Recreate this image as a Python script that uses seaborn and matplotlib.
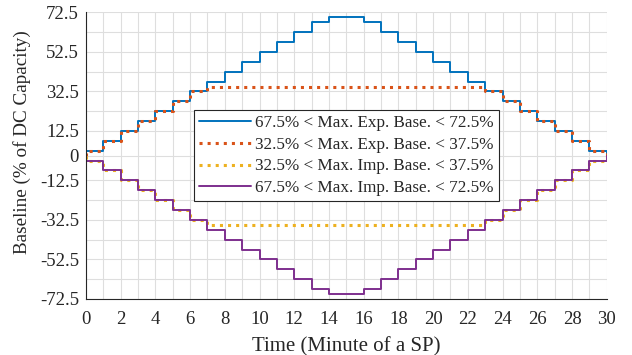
import matplotlib
matplotlib.use("Agg")
import matplotlib.pyplot as plt
import seaborn as sns
import pandas as pd

# Step values per minute of the SP (minutes 0..29), boundaries at 0 and 30 return to 0
minutes = list(range(0, 31))
exp_72 = [2.5, 7.5, 12.5, 17.5, 22.5, 27.5, 32.5, 37.5, 42.5, 47.5, 52.5, 57.5, 62.5, 67.5,
          70, 70,
          67.5, 62.5, 57.5, 52.5, 47.5, 42.5, 37.5, 32.5, 27.5, 22.5, 17.5, 12.5, 7.5, 2.5]
exp_37 = [2.5, 7.5, 12.5, 17.5, 22.5, 27.5, 32.5,
          35, 35, 35, 35, 35, 35, 35, 35, 35, 35, 35, 35, 35, 35, 35, 35,
          32.5, 27.5, 22.5, 17.5, 12.5, 7.5, 2.5]
imp_37 = [-2.5, -7.5, -12.5, -17.5, -22.5, -27.5, -32.5,
          -35, -35, -35, -35, -35, -35, -35, -35, -35, -35, -35, -35, -35, -35, -35, -35,
          -32.5, -27.5, -22.5, -17.5, -12.5, -7.5, -2.5]
imp_72 = [-2.5, -7.5, -12.5, -17.5, -22.5, -27.5, -32.5, -37.5, -42.5, -47.5, -52.5, -57.5, -62.5, -67.5,
          -70, -70,
          -67.5, -62.5, -57.5, -52.5, -47.5, -42.5, -37.5, -32.5, -27.5, -22.5, -17.5, -12.5, -7.5, -2.5]

labels = ["67.5% < Max. Exp. Base. < 72.5%",
          "32.5% < Max. Exp. Base. < 37.5%",
          "32.5% < Max. Imp. Base. < 37.5%",
          "67.5% < Max. Imp. Base. < 72.5%"]
series = [exp_72, exp_37, imp_37, imp_72]
colors = ["#0072BD", "#D95319", "#EDB120", "#7E2F8E"]
styles = ["-", ":", ":", "-"]
widths = [1.4, 2.2, 2.2, 1.4]

ytick_vals = [72.5, 62.5, 52.5, 42.5, 32.5, 22.5, 12.5, 0, -12.5, -22.5, -32.5, -42.5, -52.5, -62.5, -72.5]
ytick_labels = ["72.5", "", "52.5", "", "32.5", "", "12.5", "0", "-12.5", "", "-32.5", "", "-52.5", "", "-72.5"]
xtick_vals = list(range(0, 31))
xtick_labels = [str(v) if v % 2 == 0 else "" for v in xtick_vals]

sns.set_theme(style="white")
plt.rcParams["font.family"] = ["Liberation Serif", "DejaVu Serif"]

fig = plt.figure(figsize=(6.32, 3.55), dpi=100)
ax = fig.add_axes([0.136, 0.158, 0.824, 0.807])

for vals, lab, c, ls, lw in zip(series, labels, colors, styles, widths):
    t = [minutes[0]] + minutes
    v = [0] + vals + [0]
    df = pd.DataFrame({"t": t, "v": v})
    sns.lineplot(data=df, x="t", y="v", ax=ax, estimator=None, sort=False,
                 drawstyle="steps-post", color=c, linestyle=ls, linewidth=lw, label=lab)

ax.set_xlim(0, 30)
ax.set_ylim(-72.5, 72.5)
ax.set_xticks(xtick_vals)
ax.set_xticklabels(xtick_labels)
ax.set_yticks(ytick_vals)
ax.set_yticklabels(ytick_labels)
ax.grid(True, color="#dedede", linewidth=0.8)
ax.set_axisbelow(True)
for s in ["top", "right"]:
    ax.spines[s].set_visible(False)
for s in ["left", "bottom"]:
    ax.spines[s].set_color("#262626")
    ax.spines[s].set_linewidth(0.8)
ax.tick_params(direction="in", length=4, width=0.7, colors="#262626", labelsize=13.5)
ax.tick_params(axis="x", pad=9)
ax.tick_params(axis="y", pad=5)
ax.set_xlabel("Time (Minute of a SP)", fontsize=15, color="#262626", labelpad=6)
ax.set_ylabel("Baseline (% of DC Capacity)", fontsize=13.8, color="#262626")
ax.yaxis.set_label_coords(-0.106, 0.548)

leg = ax.legend(loc="center", fontsize=12.3, frameon=True, fancybox=False, framealpha=1,
                edgecolor="#262626", handlelength=3.0, handletextpad=0.25, labelspacing=0.33,
                borderpad=0.3, borderaxespad=0.3)
leg.get_frame().set_linewidth(0.8)

fig.savefig("out.png", dpi=100)
